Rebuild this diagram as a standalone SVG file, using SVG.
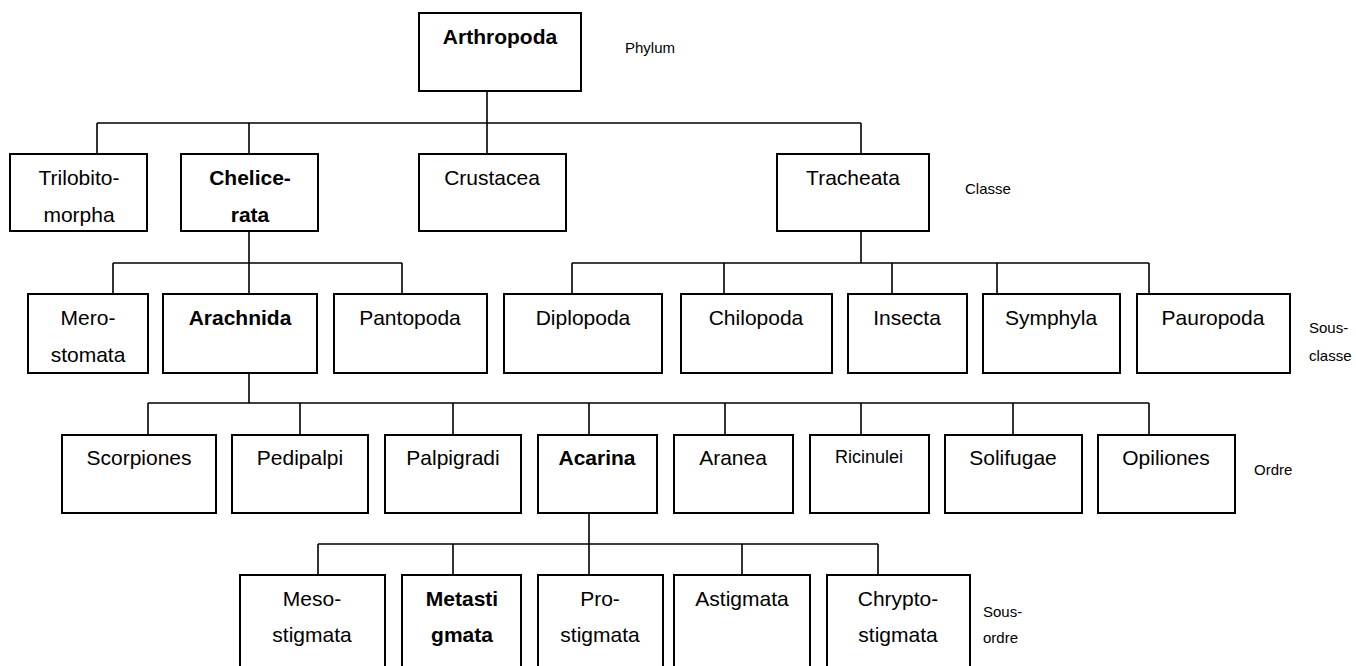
<svg xmlns="http://www.w3.org/2000/svg" width="1356" height="666" viewBox="0 0 1356 666">
<style>
.box{fill:#fff;stroke:#000;stroke-width:2}
.t{font-family:"Liberation Sans",Arial,sans-serif;font-size:21px;fill:#000;text-anchor:middle}
.b{font-weight:bold}
.lbl{font-family:"Liberation Sans",Arial,sans-serif;font-size:15px;fill:#000}
.c{fill:none;stroke:#000;stroke-width:1.6}
</style>
<rect width="1356" height="666" fill="#fff"/>
<g id="connectors">
<path class="c" d="M487,91V123M97,123H861M97,123V154M249,123V154M487,123V154M861,123V154"/>
<path class="c" d="M249,231V263M113,263H402M113,263V294M249,263V294M402,263V294"/>
<path class="c" d="M861,231V263M572,263H1149M572,263V294M724,263V294M892,263V294M997,263V294M1149,263V294"/>
<path class="c" d="M249,373V403M148,403H1149M148,403V435M300,403V435M453,403V435M589,403V435M725,403V435M861,403V435M1013,403V435M1149,403V435"/>
<path class="c" d="M589,513V544M318,544H878M318,544V575M453,544V575M589,544V575M742,544V575M878,544V575"/>
</g>
<g id="arthropoda"><rect class="box" x="419" y="13" width="162" height="78"/><text class="t b" x="500" y="44">Arthropoda</text></g>
<g id="lbl-phylum"><text class="lbl" x="625" y="53">Phylum</text></g>
<g id="trilobitomorpha"><rect class="box" x="10" y="154" width="137" height="77"/><text class="t" x="79" y="185">Trilobito-</text><text class="t" x="79" y="222">morpha</text></g>
<g id="chelicerata"><rect class="box" x="181" y="154" width="137" height="77"/><text class="t b" x="250" y="185">Chelice-</text><text class="t b" x="250" y="222">rata</text></g>
<g id="crustacea"><rect class="box" x="419" y="154" width="147" height="77"/><text class="t" x="492" y="185">Crustacea</text></g>
<g id="tracheata"><rect class="box" x="777" y="154" width="152" height="77"/><text class="t" x="853" y="185">Tracheata</text></g>
<g id="lbl-classe"><text class="lbl" x="965" y="194">Classe</text></g>
<g id="merostomata"><rect class="box" x="28" y="294" width="120" height="79"/><text class="t" x="88" y="325">Mero-</text><text class="t" x="88" y="362">stomata</text></g>
<g id="arachnida"><rect class="box" x="163" y="294" width="154" height="79"/><text class="t b" x="240" y="325">Arachnida</text></g>
<g id="pantopoda"><rect class="box" x="334" y="294" width="153" height="79"/><text class="t" x="410" y="325">Pantopoda</text></g>
<g id="diplopoda"><rect class="box" x="504" y="294" width="158" height="79"/><text class="t" x="583" y="325">Diplopoda</text></g>
<g id="chilopoda"><rect class="box" x="681" y="294" width="151" height="79"/><text class="t" x="756" y="325">Chilopoda</text></g>
<g id="insecta"><rect class="box" x="848" y="294" width="119" height="79"/><text class="t" x="907" y="325">Insecta</text></g>
<g id="symphyla"><rect class="box" x="983" y="294" width="137" height="79"/><text class="t" x="1051" y="325">Symphyla</text></g>
<g id="pauropoda"><rect class="box" x="1137" y="294" width="153" height="79"/><text class="t" x="1213" y="325">Pauropoda</text></g>
<g id="lbl-sousclasse"><text class="lbl" x="1309" y="333">Sous-</text><text class="lbl" x="1309" y="361">classe</text></g>
<g id="scorpiones"><rect class="box" x="62" y="435" width="154" height="78"/><text class="t" x="139" y="465">Scorpiones</text></g>
<g id="pedipalpi"><rect class="box" x="232" y="435" width="136" height="78"/><text class="t" x="300" y="465">Pedipalpi</text></g>
<g id="palpigradi"><rect class="box" x="385" y="435" width="136" height="78"/><text class="t" x="453" y="465">Palpigradi</text></g>
<g id="acarina"><rect class="box" x="538" y="435" width="119" height="78"/><text class="t b" x="597" y="465">Acarina</text></g>
<g id="aranea"><rect class="box" x="674" y="435" width="119" height="78"/><text class="t" x="733" y="465">Aranea</text></g>
<g id="ricinulei"><rect class="box" x="810" y="435" width="119" height="78"/><text class="t" x="869" y="463" style="font-size:18px">Ricinulei</text></g>
<g id="solifugae"><rect class="box" x="945" y="435" width="137" height="78"/><text class="t" x="1013" y="465">Solifugae</text></g>
<g id="opiliones"><rect class="box" x="1098" y="435" width="137" height="78"/><text class="t" x="1166" y="465">Opiliones</text></g>
<g id="lbl-ordre"><text class="lbl" x="1254" y="475">Ordre</text></g>
<g id="mesostigmata"><rect class="box" x="240" y="575" width="145" height="110"/><text class="t" x="312" y="606">Meso-</text><text class="t" x="312" y="642">stigmata</text></g>
<g id="metastigmata"><rect class="box" x="402" y="575" width="119" height="110"/><text class="t b" x="462" y="606">Metasti</text><text class="t b" x="462" y="642">gmata</text></g>
<g id="prostigmata"><rect class="box" x="538" y="575" width="125" height="110"/><text class="t" x="600" y="606">Pro-</text><text class="t" x="600" y="642">stigmata</text></g>
<g id="astigmata"><rect class="box" x="674" y="575" width="136" height="110"/><text class="t" x="742" y="606">Astigmata</text></g>
<g id="chryptostigmata"><rect class="box" x="827" y="575" width="143" height="110"/><text class="t" x="898" y="606">Chrypto-</text><text class="t" x="898" y="642">stigmata</text></g>
<g id="lbl-sousordre"><text class="lbl" x="983" y="617">Sous-</text><text class="lbl" x="983" y="643">ordre</text></g>
</svg>
